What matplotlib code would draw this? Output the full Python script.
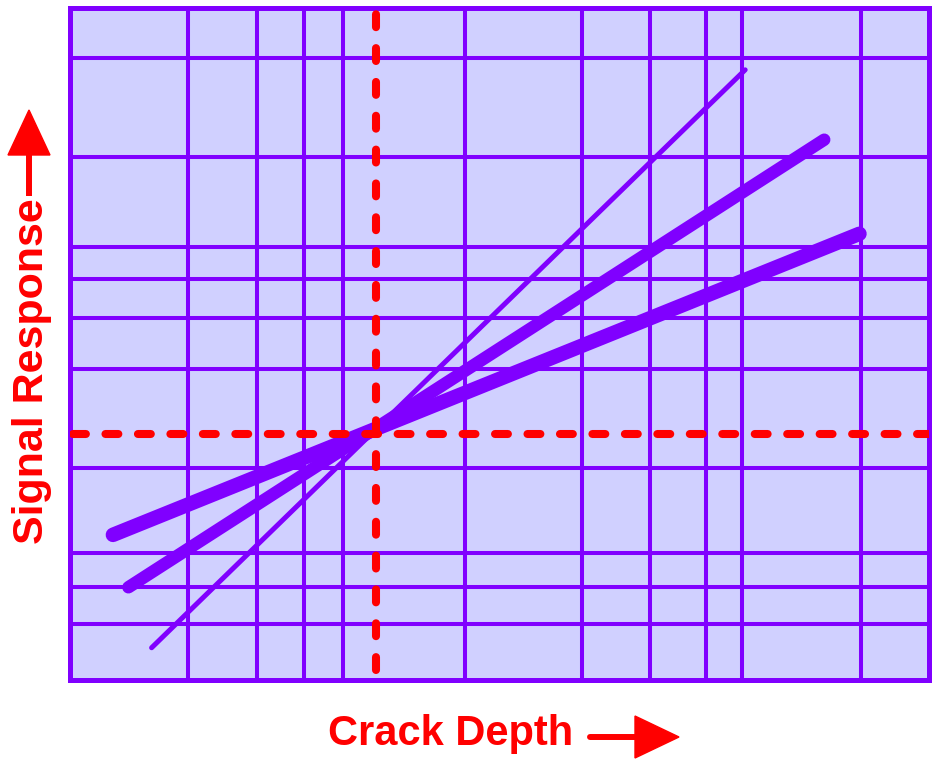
import matplotlib.pyplot as plt
from matplotlib.patches import Polygon
from matplotlib.lines import Line2D

PURPLE = '#8000ff'
RED = '#ff0000'
BG = '#d0d0ff'

# gridline positions (axis runs 0..100 both ways)
x_grid = [13.7, 21.8, 27.2, 31.8, 46.0, 59.6, 67.5, 74.0, 78.2, 92.1]
y_grid = [8.3, 13.8, 18.9, 31.5, 46.3, 53.9, 59.7, 64.4, 77.8, 92.6]

# red dashed reference lines
x_ref = 35.6
y_ref = 36.6

# three response lines: (x0, x1), (y0, y1)
thin_x = [9.5, 78.6]
thin_y = [4.8, 90.8]
mid_x = [6.8, 87.8]
mid_y = [13.8, 80.4]
thick_x = [5.0, 91.9]
thick_y = [21.6, 66.4]

W, H = 936, 761
fig = plt.figure(figsize=(W / 100, H / 100), dpi=100)
ax = fig.add_axes([70 / W, (H - 680) / H, (929 - 70) / W, (680 - 8) / H])
ax.set_facecolor(BG)
ax.set_xlim(0, 100)
ax.set_ylim(0, 100)
ax.set_xticks(x_grid)
ax.set_yticks(y_grid)
ax.tick_params(labelbottom=False, labelleft=False, length=2, width=2.9,
               color=PURPLE, direction='out', left=False, right=True, labelright=False)
ax.grid(True, color=PURPLE, linewidth=2.9, zorder=1)
ax.set_axisbelow(True)
for s in ax.spines.values():
    s.set_color(PURPLE)
    s.set_linewidth(3.6)

ax.plot(thin_x, thin_y, color=PURPLE, lw=3.6, solid_capstyle='round', zorder=3)
ax.plot(mid_x, mid_y, color=PURPLE, lw=9, solid_capstyle='round', zorder=3)
ax.plot(thick_x, thick_y, color=PURPLE, lw=10.5, solid_capstyle='round', zorder=3)

ax.plot([x_ref, x_ref], [1.5, 99.2], color=RED, lw=5.8, dashes=(1.6, 2.6),
        dash_capstyle='round', zorder=4)
ax.plot([0.3, 100], [y_ref, y_ref], color=RED, lw=5.8, dashes=(1.6, 2.43),
        dash_capstyle='round', zorder=4)

# axis labels
fig.text(328 / W, (H - 745) / H, 'Crack Depth', color=RED, fontsize=30,
         fontweight='bold', family='Liberation Sans', ha='left', va='baseline')
fig.text(43 / W, (H - 544) / H, 'Signal Response', color=RED, fontsize=31,
         fontweight='bold', family='Liberation Sans', rotation=90,
         rotation_mode='anchor', ha='left', va='baseline')


def px(x, y):
    return (x / W, (H - y) / H)


# arrow next to x label
fig.add_artist(Line2D([590 / W, 640 / W], [(H - 737) / H] * 2, color=RED, lw=4.3,
                      solid_capstyle='round', transform=fig.transFigure))
fig.add_artist(Polygon([px(635, 716), px(635, 758), px(679, 737)], closed=True,
                       color=RED, transform=fig.transFigure))
# arrow next to y label
fig.add_artist(Line2D([29 / W, 29 / W], [(H - 196) / H, (H - 150) / H], color=RED, lw=4.3,
                      solid_capstyle='butt', transform=fig.transFigure))
fig.add_artist(Polygon([px(8, 155), px(50, 155), px(29, 110)], closed=True,
                       color=RED, transform=fig.transFigure))

fig.savefig('out.png', dpi=100)
